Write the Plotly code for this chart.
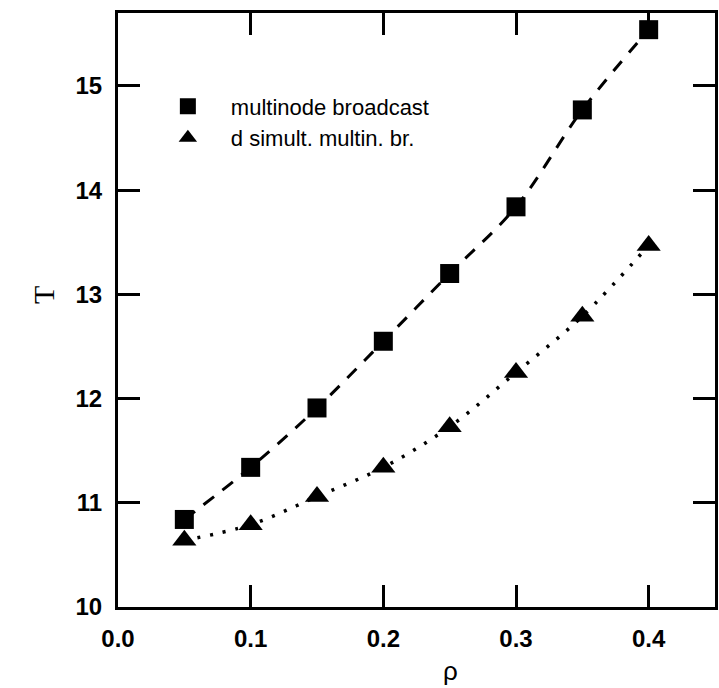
import plotly.graph_objects as go

rho = [0.05, 0.10, 0.15, 0.20, 0.25, 0.30, 0.35, 0.40]
t_multinode = [10.84, 11.34, 11.91, 12.55, 13.20, 13.84, 14.77, 15.54]
t_simult = [10.64, 10.79, 11.06, 11.34, 11.73, 12.25, 12.79, 13.47]
name_multinode = "multinode broadcast"
name_simult = "d simult. multin. br."
x_ticks = [0.0, 0.1, 0.2, 0.3, 0.4]
x_ticklabels = ["0.0", "0.1", "0.2", "0.3", "0.4"]
y_ticks = [10, 11, 12, 13, 14, 15]

fig = go.Figure()
fig.add_trace(go.Scatter(x=rho, y=t_multinode, mode="lines", line=dict(color="black", width=3, dash="13px,11px", shape="spline"),
                         showlegend=False, hoverinfo="skip"))
fig.add_trace(go.Scatter(x=rho, y=t_simult, mode="lines", line=dict(color="black", width=3.5, dash="3px,10px", shape="spline"),
                         showlegend=False, hoverinfo="skip"))
fig.add_trace(go.Scatter(x=rho, y=t_multinode, mode="markers", name=name_multinode,
                         marker=dict(symbol="square", size=19, color="black")))
fig.add_trace(go.Scatter(x=rho, y=t_simult, mode="markers", name=name_simult,
                         marker=dict(symbol="triangle-up", size=21, color="black")))

axis_common = dict(showline=True, linecolor="black", linewidth=3, mirror="ticks", ticks="inside",
                   ticklen=22, tickwidth=2.5, tickcolor="black", showgrid=False, zeroline=False,
                   tickfont=dict(family="Liberation Sans, Arial", size=24, color="black", weight="bold"))

fig.update_xaxes(range=[0, 0.45], tickvals=x_ticks, ticktext=x_ticklabels, ticklabelstandoff=8, **axis_common)
fig.update_yaxes(range=[10, 15.7], tickvals=y_ticks, ticklabelstandoff=8, **axis_common)

fig.add_annotation(text="T", xref="paper", yref="paper", x=-0.157, y=0.525, showarrow=False, textangle=-90,
                   font=dict(family="Liberation Serif, Times New Roman", size=30, color="black"))
fig.add_annotation(text="ρ", xref="paper", yref="paper", x=0.557, y=0, yanchor="middle", yshift=-64, showarrow=False,
                   font=dict(family="Liberation Sans, Arial", size=26, color="black"))

fig.update_layout(width=719, height=688, margin=dict(l=118, r=1, t=13, b=81),
                  plot_bgcolor="white", paper_bgcolor="white",
                  legend=dict(x=0.045, y=0.878, xanchor="left", yanchor="top", bgcolor="rgba(0,0,0,0)",
                              font=dict(family="Liberation Sans, Arial", size=22, color="black"),
                              itemsizing="trace", tracegroupgap=0, itemwidth=76))

fig.write_html("out.html")
